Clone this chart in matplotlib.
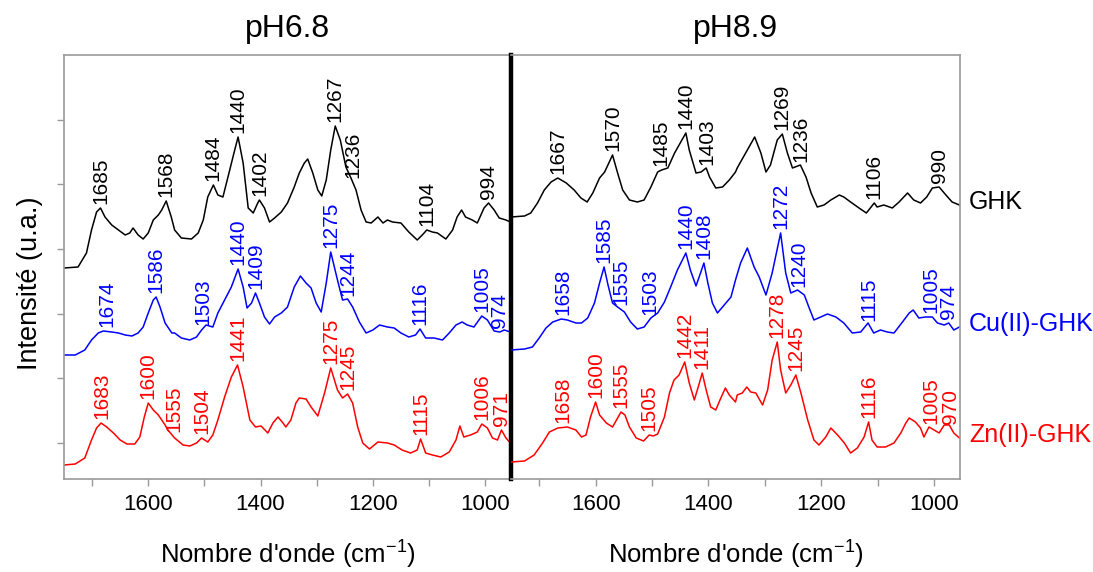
import numpy as np
import matplotlib
matplotlib.use('Agg')
import matplotlib.pyplot as plt

plt.rcParams['font.family'] = ['Liberation Sans', 'DejaVu Sans']
plt.rcParams['mathtext.fontset'] = 'custom'
plt.rcParams['mathtext.rm'] = 'Liberation Sans'

# spectra: (wavenumber cm-1, intensity a.u.)
ghk_68 = np.array([
    (1750, 175), (1725, 176), (1710, 190), (1701, 213), (1692, 231), (1685, 235), (1677, 226),
    (1665, 218), (1653, 213), (1641, 208), (1633, 210), (1627, 215), (1618, 208), (1609, 204),
    (1600, 210), (1591, 223), (1582, 228), (1576, 233), (1568, 242), (1559, 226), (1553, 213),
    (1541, 205), (1523, 204), (1511, 210), (1502, 223), (1494, 246), (1484, 258), (1476, 248),
    (1467, 246), (1458, 266), (1446, 293), (1440, 306), (1431, 280), (1422, 235), (1413, 230),
    (1405, 240), (1402, 243), (1393, 235), (1384, 221), (1375, 225), (1363, 231), (1352, 240),
    (1340, 256), (1331, 270), (1322, 280), (1316, 284), (1307, 270), (1298, 253), (1291, 247),
    (1283, 263), (1275, 293), (1267, 317), (1258, 303), (1248, 276), (1239, 265), (1230, 253),
    (1221, 233), (1212, 221), (1203, 220), (1191, 226), (1182, 220), (1174, 223), (1165, 221),
    (1150, 220), (1136, 211), (1121, 203), (1112, 208), (1104, 213), (1094, 211), (1085, 210),
    (1070, 204), (1058, 213), (1050, 226), (1042, 233), (1035, 226), (1023, 223), (1014, 220),
    (1002, 235), (994, 240), (984, 233), (975, 225), (963, 223), (955, 221)])
cu_68 = np.array([
    (1750, 88), (1730, 88), (1713, 93), (1701, 103), (1689, 110), (1680, 112), (1665, 111),
    (1653, 110), (1641, 108), (1629, 107), (1618, 110), (1609, 116), (1600, 130), (1591, 143),
    (1586, 146), (1579, 136), (1570, 120), (1558, 110), (1553, 110), (1541, 105), (1526, 103),
    (1514, 106), (1505, 113), (1497, 118), (1485, 116), (1476, 130), (1464, 143), (1452, 156),
    (1440, 174), (1431, 156), (1424, 135), (1416, 140), (1409, 150), (1402, 140), (1393, 126),
    (1384, 119), (1375, 126), (1363, 130), (1352, 136), (1340, 156), (1329, 167), (1319, 160),
    (1310, 155), (1301, 140), (1292, 131), (1283, 160), (1275, 191), (1263, 163), (1254, 143),
    (1245, 144), (1236, 136), (1224, 121), (1212, 110), (1200, 113), (1188, 118), (1174, 116),
    (1162, 115), (1150, 110), (1136, 106), (1124, 108), (1116, 114), (1106, 105), (1091, 105),
    (1076, 103), (1064, 110), (1052, 118), (1041, 121), (1032, 118), (1020, 116), (1006, 127),
    (996, 123), (984, 112), (974, 111), (966, 113), (955, 111)])
zn_68 = np.array([
    (1750, -22), (1730, -21), (1713, -15), (1701, 3), (1692, 15), (1684, 20), (1674, 16),
    (1662, 10), (1650, 3), (1638, -1), (1624, -1), (1615, 6), (1607, 26), (1600, 40),
    (1591, 33), (1582, 28), (1570, 18), (1565, 13), (1553, 5), (1538, -2), (1526, -3),
    (1514, 0), (1505, 5), (1494, 1), (1485, 8), (1476, 23), (1464, 46), (1452, 66),
    (1441, 78), (1431, 56), (1419, 23), (1409, 16), (1399, 17), (1387, 10), (1378, 20),
    (1369, 26), (1360, 20), (1355, 16), (1346, 23), (1337, 40), (1331, 45), (1319, 44),
    (1310, 36), (1298, 27), (1286, 50), (1275, 75), (1263, 53), (1254, 45), (1245, 49),
    (1236, 40), (1227, 16), (1218, 0), (1206, -6), (1191, 1), (1174, 0), (1162, -2),
    (1148, -7), (1133, -10), (1121, -7), (1115, 4), (1106, -10), (1094, -12), (1079, -14),
    (1064, -9), (1052, 3), (1045, 17), (1038, 6), (1026, 8), (1014, 11), (1006, 19),
    (996, 15), (987, 5), (978, 3), (971, 13), (963, 5), (955, 0)])
ghk_89 = np.array([
    (1750, 226), (1726, 227), (1715, 230), (1703, 240), (1691, 253), (1679, 261), (1667, 265),
    (1652, 260), (1638, 253), (1626, 245), (1615, 241), (1605, 250), (1593, 265), (1584, 271),
    (1570, 288), (1561, 270), (1552, 253), (1540, 243), (1526, 241), (1514, 243), (1502, 256),
    (1490, 271), (1483, 273), (1472, 275), (1460, 290), (1440, 310), (1434, 293), (1422, 270),
    (1413, 271), (1404, 275), (1398, 266), (1387, 255), (1375, 256), (1363, 263), (1352, 271),
    (1349, 275), (1334, 290), (1318, 306), (1307, 290), (1298, 271), (1290, 278), (1278, 303),
    (1269, 309), (1260, 290), (1251, 275), (1237, 278), (1227, 266), (1218, 250), (1207, 236),
    (1195, 238), (1183, 243), (1168, 248), (1160, 246), (1148, 241), (1133, 235), (1120, 230),
    (1106, 240), (1101, 236), (1089, 238), (1074, 235), (1062, 241), (1047, 250), (1036, 243),
    (1024, 240), (1013, 246), (1003, 255), (991, 256), (979, 248), (968, 241), (955, 238)])
cu_89 = np.array([
    (1750, 93), (1726, 94), (1712, 96), (1700, 105), (1688, 115), (1676, 121), (1661, 124),
    (1650, 123), (1635, 120), (1625, 120), (1614, 125), (1602, 140), (1593, 160), (1585, 176),
    (1578, 158), (1570, 140), (1561, 136), (1549, 131), (1538, 121), (1526, 114), (1514, 116),
    (1502, 125), (1490, 130), (1478, 141), (1467, 156), (1455, 173), (1440, 190), (1432, 173),
    (1422, 157), (1414, 170), (1408, 180), (1401, 160), (1393, 140), (1384, 130), (1372, 138),
    (1360, 146), (1352, 163), (1343, 180), (1331, 195), (1319, 176), (1310, 166), (1298, 148),
    (1287, 170), (1272, 210), (1263, 170), (1254, 150), (1242, 153), (1230, 148), (1222, 136),
    (1213, 123), (1201, 126), (1189, 129), (1174, 126), (1160, 120), (1145, 110), (1130, 111),
    (1117, 120), (1107, 110), (1095, 113), (1083, 111), (1071, 110), (1056, 121), (1044, 130),
    (1037, 133), (1027, 125), (1015, 126), (1003, 126), (994, 120), (982, 118), (974, 120),
    (965, 113), (955, 116)])
zn_89 = np.array([
    (1750, -19), (1726, -18), (1709, -12), (1694, 0), (1682, 11), (1667, 15), (1650, 16),
    (1635, 13), (1625, 6), (1617, 8), (1609, 26), (1600, 41), (1593, 28), (1581, 20),
    (1570, 16), (1560, 26), (1555, 31), (1548, 28), (1540, 16), (1528, 5), (1515, 2),
    (1505, 8), (1498, 7), (1490, 9), (1478, 26), (1469, 50), (1461, 63), (1452, 68),
    (1442, 81), (1434, 60), (1425, 43), (1416, 60), (1411, 70), (1404, 53), (1396, 36),
    (1387, 33), (1378, 45), (1370, 55), (1363, 48), (1352, 41), (1349, 48), (1340, 50),
    (1332, 56), (1325, 51), (1316, 50), (1304, 38), (1295, 53), (1287, 83), (1278, 101),
    (1272, 73), (1263, 50), (1254, 58), (1245, 68), (1236, 50), (1224, 23), (1213, 3),
    (1204, -2), (1192, 6), (1183, 15), (1171, 8), (1159, 0), (1148, -10), (1136, -5),
    (1124, 6), (1116, 21), (1110, 3), (1101, -4), (1086, -4), (1071, 0), (1059, 10),
    (1050, 20), (1044, 25), (1033, 21), (1024, 15), (1018, 6), (1009, 16), (1000, 13),
    (991, 10), (982, 18), (973, 18), (965, 10), (955, 5)])

# peak labels
ghk_68_peaks = [1685, 1568, 1484, 1440, 1402, 1267, 1236, 1104, 994]
cu_68_peaks = [1674, 1586, 1503, 1440, 1409, 1275, 1244, 1116, 1005, 974]
zn_68_peaks = [1683, 1600, 1555, 1504, 1441, 1275, 1245, 1115, 1006, 971]
ghk_89_peaks = [1667, 1570, 1485, 1440, 1403, 1269, 1236, 1106, 990]
cu_89_peaks = [1658, 1585, 1555, 1503, 1440, 1408, 1272, 1240, 1115, 1005, 974]
zn_89_peaks = [1658, 1600, 1555, 1505, 1442, 1411, 1278, 1245, 1116, 1005, 970]

titles = ['pH6.8', 'pH8.9']
series_names = ['GHK', 'Cu(II)-GHK', 'Zn(II)-GHK']
colors = ['black', '#0000ff', '#ff0000']

panels = [
    [(ghk_68, ghk_68_peaks), (cu_68, cu_68_peaks), (zn_68, zn_68_peaks)],
    [(ghk_89, ghk_89_peaks), (cu_89, cu_89_peaks), (zn_89, zn_89_peaks)],
]

W, H = 1093, 572
fig = plt.figure(figsize=(W / 100, H / 100), dpi=100)
ax_l = fig.add_axes([64 / W, 1 - 479 / H, 447 / W, 424 / H])
ax_r = fig.add_axes([511 / W, 1 - 479 / H, 449 / W, 424 / H])
ax_r.patch.set_visible(False)

grey = '#9a9a9a'
for ax, title, spectra in zip([ax_l, ax_r], titles, panels):
    for (spec, peaks), col in zip(spectra, colors):
        wn, inten = spec[:, 0], spec[:, 1]
        ax.plot(wn, inten, color=col, lw=1.1)
        for p in peaks:
            yp = np.interp(p, wn[::-1], inten[::-1])
            ax.annotate(str(p), (p, yp), xytext=(0, 3), textcoords='offset points',
                        rotation=90, ha='center', va='bottom', color=col, fontsize=15)
    ax.set_xlim(1750, 954)
    ax.set_ylim(-36, 388)
    ax.set_xticks([1600, 1400, 1200, 1000])
    ax.set_xticks([1700, 1500, 1300, 1100], minor=True)
    ax.tick_params(axis='x', which='both', direction='out', length=5, width=1,
                   color=grey, labelsize=16, pad=6)
    for s in ax.spines.values():
        s.set_color(grey)
        s.set_linewidth(1.2)
    ax.set_title(title, fontsize=23, pad=13)
    ax.set_xlabel("Nombre d'onde (cm$^{-1}$)", fontsize=18.5, labelpad=16)

ax_l.set_yticks(np.arange(0, 388, 64.7))
ax_l.set_yticklabels([])
ax_l.tick_params(axis='y', direction='out', length=5, width=1, color=grey)
ax_l.spines['right'].set_color('black')
ax_l.spines['right'].set_linewidth(3.2)
ax_l.spines['right'].set_zorder(5)
ax_r.set_yticks([])
ax_r.spines['left'].set_visible(False)

# series names at the right end of the curves
for (spec, _), name, col in zip(panels[1], series_names, colors):
    ax_r.annotate(name, (spec[-1, 0], spec[-1, 1]), xytext=(7, 2), textcoords='offset points',
                  ha='left', va='center', color=col, fontsize=18, annotation_clip=False)

fig.text(30 / W, 1 - 283 / H, 'Intensité (u.a.)', rotation=90, ha='center', va='center',
         fontsize=19.5)

fig.savefig('out.png', dpi=100)
